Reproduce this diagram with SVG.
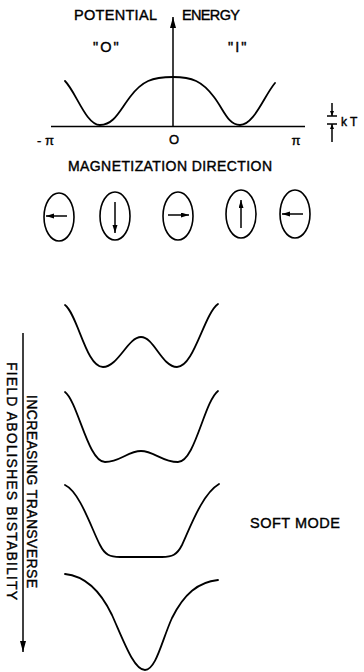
<svg xmlns="http://www.w3.org/2000/svg" width="364" height="672" viewBox="0 0 364 672">
<style>
.t{font-family:"Liberation Sans",Arial,sans-serif;fill:#000;stroke:#000;stroke-width:0.4}
.c{fill:none;stroke:#000;stroke-width:1.8;stroke-linecap:round;stroke-linejoin:round}
.l{fill:none;stroke:#000;stroke-width:1.5}
.e{fill:none;stroke:#000;stroke-width:1.6}
</style>
<defs>
<marker id="ah" markerUnits="userSpaceOnUse" markerWidth="12" markerHeight="8" refX="11" refY="3" orient="auto"><path d="M0,0 L11,3 L0,6 Z" fill="#000"/></marker>
<marker id="ahs" markerUnits="userSpaceOnUse" markerWidth="10" markerHeight="8" refX="8" refY="2.5" orient="auto"><path d="M0,0 L8,2.5 L0,5 Z" fill="#000"/></marker>
<marker id="ahk" markerUnits="userSpaceOnUse" markerWidth="8" markerHeight="6" refX="5" refY="2" orient="auto"><path d="M0,0 L5,2 L0,4 Z" fill="#000"/></marker>
</defs>
<rect width="364" height="672" fill="#fff"/>

<g id="top-plot">
<text class="t" x="74" y="20" font-size="14.5" textLength="83" lengthAdjust="spacing">POTENTIAL</text>
<text class="t" x="182" y="20" font-size="14.5" textLength="58" lengthAdjust="spacing">ENERGY</text>
<text class="t" x="93" y="52" font-size="14.5" letter-spacing="2">"O"</text>
<text class="t" x="228" y="52" font-size="14.5" letter-spacing="2">"I"</text>
<line class="l" x1="51" y1="126.5" x2="305" y2="126.5"/>
<path class="c" d="M65,81 C76,92 86,125 100,125 C114,125 120,110 130,97 C142,81 152,77 173,77 C192,77 202,81 214,97 C224,110 228,125 240,125 C254,125 264,96 275,83"/>
<text class="t" x="37" y="145" font-size="13">- π</text>
<text class="t" x="174" y="144" font-size="13" text-anchor="middle">O</text>
<text class="t" x="296" y="145" font-size="13" text-anchor="middle">π</text>
<text class="t" x="341" y="126" font-size="12">k T</text>
<line class="l" x1="327" y1="116" x2="337" y2="116" stroke-width="1.3"/>
<line class="l" x1="327" y1="124" x2="337" y2="124" stroke-width="1.3"/>
</g>

<text id="mag-label" class="t" x="68" y="171" font-size="14" textLength="204" lengthAdjust="spacing">MAGNETIZATION DIRECTION</text>

<g id="ellipse-1"><ellipse class="e" cx="59" cy="217" rx="15" ry="24"/></g>
<g id="ellipse-2"><ellipse class="e" cx="115" cy="216" rx="15" ry="24"/></g>
<g id="ellipse-3"><ellipse class="e" cx="178" cy="216" rx="15" ry="24"/></g>
<g id="ellipse-4"><ellipse class="e" cx="241" cy="214" rx="15" ry="24"/></g>
<g id="ellipse-5"><ellipse class="e" cx="295" cy="214" rx="15" ry="24"/></g>

<g id="curve-1"><path class="c" d="M65,305 C78,315 86,367 103,367 C118,367 128,337 141,337 C154,337 162,367 177,367 C194,367 204,314 218,304"/></g>
<g id="curve-2"><path class="c" d="M65,392 C78,402 88,462 105,462 C120,462 128,451 141,451 C154,451 162,462 178,462 C195,462 204,402 218,391"/></g>
<g id="curve-3"><path class="c" d="M65,485 C80,492 92,530 100,545 C105,555 110,557 120,557 L162,557 C172,557 177,555 182,545 C190,528 202,494 219,484"/></g>
<g id="curve-4"><path class="c" d="M65,574 C85,576 100,590 112,615 C124,642 134,670 145,670 C156,670 162,640 172,618 C184,594 198,582 218,580"/></g>

<g id="side-label">
<text class="t" font-size="14" transform="translate(27,395) rotate(90)" textLength="193" lengthAdjust="spacing">INCREASING TRANSVERSE</text>
<text class="t" font-size="14" transform="translate(7,362) rotate(90)" textLength="238" lengthAdjust="spacing">FIELD ABOLISHES BISTABILITY</text>
</g>
<text id="soft-mode" class="t" x="250" y="528" font-size="14.5" textLength="90" lengthAdjust="spacing">SOFT MODE</text>

<g id="connectors">
<line class="l" x1="173" y1="126" x2="173" y2="17" marker-end="url(#ah)"/>
<line class="l" x1="332" y1="103" x2="332" y2="116" stroke-width="1.2" marker-end="url(#ahk)"/>
<line class="l" x1="332" y1="142" x2="332" y2="124" stroke-width="1.2" marker-end="url(#ahk)"/>
<line class="l" x1="67" y1="216" x2="46" y2="216" marker-end="url(#ahs)"/>
<line class="l" x1="115" y1="202" x2="115" y2="233" marker-end="url(#ahs)"/>
<line class="l" x1="168" y1="215" x2="189" y2="215" marker-end="url(#ahs)"/>
<line class="l" x1="241" y1="228" x2="241" y2="200" marker-end="url(#ahs)"/>
<line class="l" x1="303" y1="214" x2="282" y2="214" marker-end="url(#ahs)"/>
<line class="l" x1="23" y1="333" x2="23" y2="652" marker-end="url(#ah)"/>
</g>
</svg>
